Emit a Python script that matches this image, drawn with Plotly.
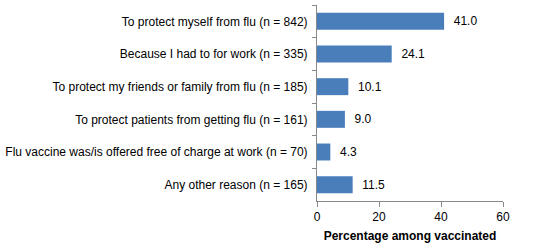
import plotly.graph_objects as go

categories = [
    "To protect myself from flu (n = 842)",
    "Because I had to for work (n = 335)",
    "To protect my friends or family from flu (n = 185)",
    "To protect patients from getting flu (n = 161)",
    "Flu vaccine was/is offered free of charge at work (n = 70)",
    "Any other reason (n = 165)",
]
values = [41.0, 24.1, 10.1, 9.0, 4.3, 11.5]
x_ticks = [0, 20, 40, 60]

fig = go.Figure(go.Bar(
    x=values, y=categories, orientation="h",
    marker=dict(color="#4A7EBB", line=dict(width=0)),
    text=[f"  {v:.1f}" for v in values], textposition="outside",
    textfont=dict(family="Liberation Sans", size=12, color="black"),
    cliponaxis=False, width=0.52,
))
fig.update_layout(
    width=533, height=248,
    margin=dict(l=315, r=30, t=5, b=47),
    paper_bgcolor="white", plot_bgcolor="white",
    font=dict(family="Liberation Sans", size=12, color="black"),
    showlegend=False,
    xaxis=dict(range=[0, 60], tickvals=x_ticks, showgrid=False, zeroline=False,
               showline=True, linecolor="#888888", linewidth=1,
               ticks="outside", ticklen=5, tickcolor="#888888",
               title=dict(text="<b>Percentage among vaccinated</b>", standoff=8,
                          font=dict(size=12))),
    yaxis=dict(autorange="reversed", showgrid=False, zeroline=False,
               showline=True, linecolor="#888888", linewidth=1,
               ticks="outside", ticklen=4, tickcolor="#888888",
               tickson="boundaries", ticklabelstandoff=6),
)
fig.write_html("out.html")
